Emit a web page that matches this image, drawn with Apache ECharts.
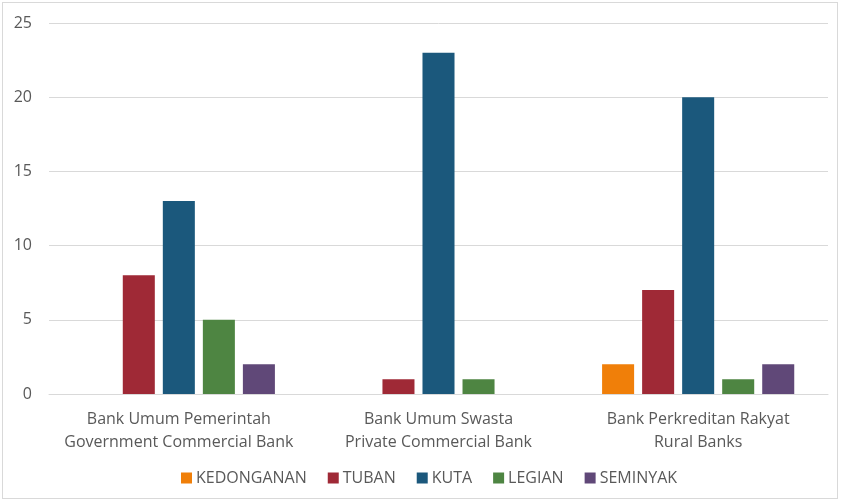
<!DOCTYPE html>
<html><head><meta charset="utf-8">
<script src="https://cdn.jsdelivr.net/npm/echarts@6/dist/echarts.min.js"></script>
<style>html,body{margin:0;padding:0;background:#fff}#c{width:842px;height:503px}
#frame{position:absolute;left:2px;top:2px;width:836px;height:497px;border:1px solid #D9D9D9;box-sizing:border-box;pointer-events:none}</style>
</head><body><div id="c"></div><div id="frame"></div>
<script>
const categories = ['Bank Umum Pemerintah\nGovernment Commercial Bank', 'Bank Umum Swasta\nPrivate Commercial Bank', 'Bank Perkreditan Rakyat\nRural Banks'];
const KEDONGANAN = [0, 0, 2];
const TUBAN = [8, 1, 7];
const KUTA = [13, 23, 20];
const LEGIAN = [5, 1, 1];
const SEMINYAK = [2, 0, 2];
const yTicks = [0, 5, 10, 15, 20, 25];

const names = ['KEDONGANAN', 'TUBAN', 'KUTA', 'LEGIAN', 'SEMINYAK'];
const data = [KEDONGANAN, TUBAN, KUTA, LEGIAN, SEMINYAK];
const colors = ['#F07F09', '#9F2936', '#1B587C', '#4E8542', '#604878'];
const font = '"Open Sans", "Liberation Sans", sans-serif';

const chart = echarts.init(document.getElementById('c'));
chart.setOption({
  animation: false,
  color: colors,
  textStyle: { fontFamily: font },
  grid: { left: 49, right: 14, top: 23, bottom: 109, containLabel: false },
  legend: {
    bottom: 12, left: 176, itemWidth: 11, itemHeight: 11, itemGap: 21,
    icon: 'rect',
    textStyle: { color: '#595959', fontSize: 16, fontFamily: font, padding: [0, 0, 0, -1] },
    data: names
  },
  xAxis: {
    type: 'category', data: categories,
    axisLine: { lineStyle: { color: '#D9D9D9', width: 1 } },
    axisTick: { show: false },
    axisLabel: { interval: 0, color: '#595959', fontSize: 16, lineHeight: 23, margin: 14, fontFamily: font }
  },
  yAxis: {
    type: 'value', min: yTicks[0], max: yTicks[yTicks.length - 1], interval: 5,
    axisLine: { show: false }, axisTick: { show: false },
    splitLine: { lineStyle: { color: '#D9D9D9', width: 1 } },
    axisLabel: { color: '#595959', fontSize: 16, margin: 17, fontFamily: font }
  },
  series: names.map((n, i) => ({
    name: n, type: 'bar', data: data[i],
    barGap: '25%', barCategoryGap: '26%'
  }))
});
</script></body></html>
